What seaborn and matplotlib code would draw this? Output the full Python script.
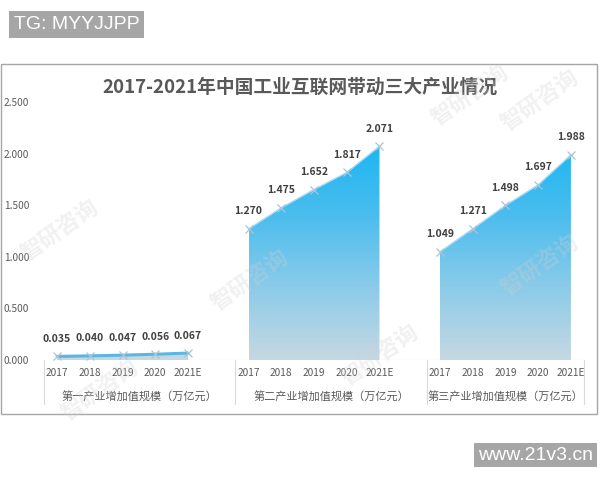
import matplotlib
matplotlib.use("Agg")
import matplotlib.pyplot as plt
import numpy as np
import pandas as pd
import seaborn as sns
from matplotlib.colors import LinearSegmentedColormap
from matplotlib.patches import Rectangle

years = ["2017", "2018", "2019", "2020", "2021E"]
primary = [0.035, 0.040, 0.047, 0.056, 0.067]
secondary = [1.270, 1.475, 1.652, 1.817, 2.071]
tertiary = [1.049, 1.271, 1.498, 1.697, 1.988]
group_names = ["第一产业增加值规模（万亿元）", "第二产业增加值规模（万亿元）", "第三产业增加值规模（万亿元）"]
title = "2017-2021年中国工业互联网带动三大产业情况"

GROUP_STEP = 5.85
XMAX = 16.1

sns.set_theme(style="white")
plt.rcParams["font.family"] = ["Noto Sans CJK SC", "DejaVu Sans"]

rows = []
for g, vals in enumerate([primary, secondary, tertiary]):
    for i, (yr, v) in enumerate(zip(years, vals)):
        rows.append(dict(group=g, year=yr, x=g * GROUP_STEP + i, value=v))
df = pd.DataFrame(rows)

fig = plt.figure(figsize=(6, 4.8), dpi=100)
ax = fig.add_axes([44 / 600, 0.25, 540 / 600, (360 - 102) / 480])
ax.set_xlim(-0.4, XMAX)
ax.set_ylim(0, 2.5)

cmap = LinearSegmentedColormap.from_list(
    "area", ["#c6d8e2", "#8ccbe9", "#4bbdee", "#1bb6f2"])
grad = np.linspace(0, 1, 256).reshape(-1, 1)

seps = [g * GROUP_STEP - 0.4 for g in range(3)] + [XMAX]

for g, sub in df.groupby("group"):
    xs = sub["x"].to_numpy()
    ys = sub["value"].to_numpy()
    poly = ax.fill_between(xs, 0, ys, color="none", lw=0)
    img = ax.imshow(grad, cmap=cmap, origin="lower", aspect="auto",
                    extent=[xs[0], xs[-1], 0, 2.1], zorder=1)
    img.set_clip_path(poly.get_paths()[0], transform=ax.transData)
    line_color = "#5bb6e0" if g == 0 else "#a9dcf3"
    sns.lineplot(data=sub, x="x", y="value", ax=ax, color=line_color,
                 lw=2.2 if g == 0 else 1.0, marker="x", markersize=6,
                 markeredgecolor="#a8c6d6", markeredgewidth=0.9, zorder=3)
    for x, v in zip(xs, ys):
        ax.annotate(f"{v:.3f}", (x, v), xytext=(0, 9), textcoords="offset points",
                    ha="center", va="bottom", fontsize=7.5, fontweight="bold",
                    color="#404040", zorder=4)
    for x, yr in zip(xs, sub["year"]):
        ax.text(x, -0.13, yr, ha="center", va="center", fontsize=7.3, color="#595959")
    ax.text((seps[g] + seps[g + 1]) / 2, -0.35, group_names[g], ha="center",
            va="center", fontsize=8, color="#595959")

for sep in seps:
    ax.plot([sep, sep], [0, -0.43], color="#d9d9d9", lw=0.8, clip_on=False)
ax.axhline(0, color="#d9d9d9", lw=0.8, zorder=2)

ax.set_xticks([])
ax.set_yticks([0, 0.5, 1.0, 1.5, 2.0, 2.5])
ax.set_yticklabels([f"{t:.3f}" for t in [0, 0.5, 1.0, 1.5, 2.0, 2.5]],
                   fontsize=7.3, color="#595959")
for lbl in ax.get_yticklabels():
    lbl.set_ha("left")
ax.tick_params(axis="y", length=0, pad=29)
ax.set_xlabel("")
ax.set_ylabel("")
for s in ax.spines.values():
    s.set_visible(False)
ax.patch.set_alpha(0)

# chart title
fig.text(0.5, 1 - 87 / 480, title, ha="center", va="center", fontsize=13.5,
         fontweight="bold", color="#595959")

# outer chart frame
fig.patches.append(Rectangle((1 / 600, 1 - 414 / 480), 596 / 600, 350 / 480,
                             transform=fig.transFigure, fill=False,
                             edgecolor="#a6a6a6", lw=1.0, zorder=0))

# faint watermark
for (px, py) in [(60, 230), (250, 280), (470, 95), (540, 100), (380, 355), (100, 390), (540, 265)]:
    fig.text(px / 600, 1 - py / 480, "智研咨询", rotation=35, ha="center", va="center",
             fontsize=16, fontweight="bold", color="#d0d0d0", alpha=0.3, zorder=5)

# corner tags
fig.text(14 / 600, 1 - 24.5 / 480, "TG: MYYJJPP", ha="left", va="center",
         fontsize=14, color="white", family="Liberation Sans",
         bbox=dict(boxstyle="square,pad=0.25", facecolor="#a6a6a6", edgecolor="none"))
fig.text(478 / 600, 1 - 455 / 480, "www.21v3.cn", ha="left", va="center",
         fontsize=14, color="white", family="Liberation Sans",
         bbox=dict(boxstyle="square,pad=0.2", facecolor="#a6a6a6", edgecolor="none"))

fig.savefig("out.png", dpi=100)
